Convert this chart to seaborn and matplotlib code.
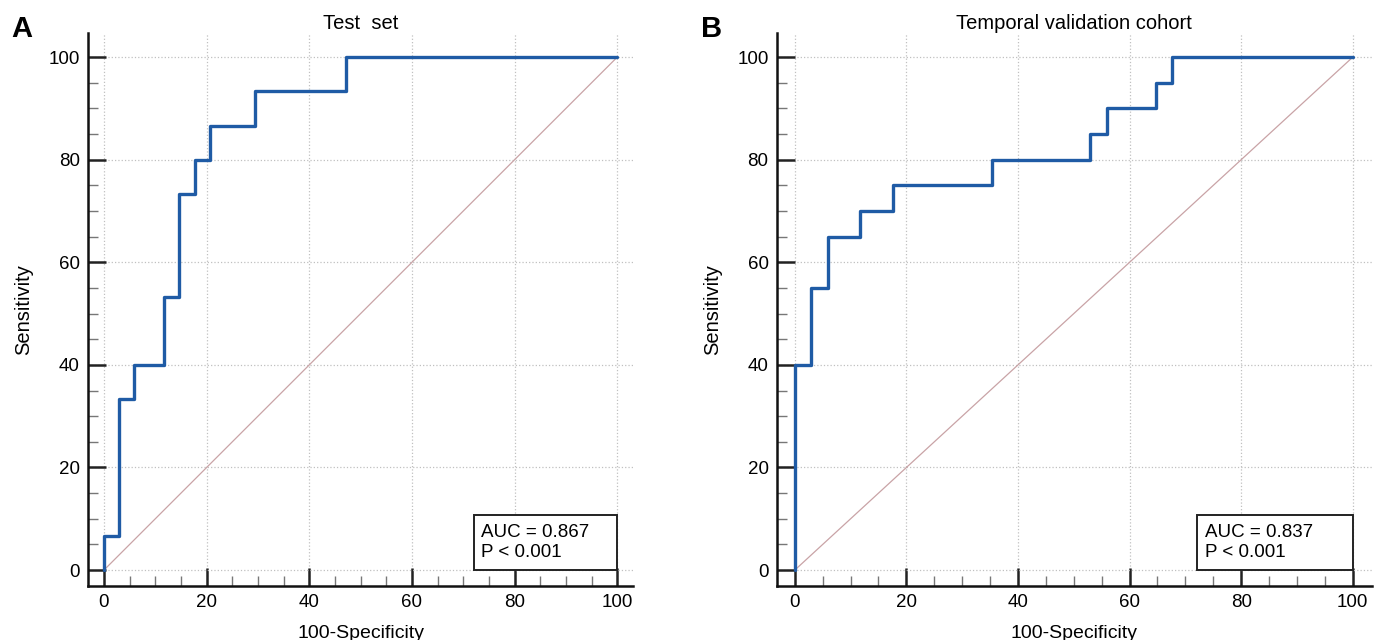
import numpy as np
import pandas as pd
import matplotlib
matplotlib.use('Agg')
import matplotlib.pyplot as plt
import seaborn as sns
from matplotlib.patches import Rectangle
from matplotlib.ticker import MultipleLocator

sns.set_style('white')
plt.rcParams['font.family'] = ['Liberation Sans', 'DejaVu Sans']
plt.rcParams['text.color'] = 'black'
plt.rcParams['axes.labelcolor'] = 'black'
plt.rcParams['xtick.color'] = 'black'
plt.rcParams['ytick.color'] = 'black'

# ROC corner points (100-Specificity, Sensitivity)
test_fpr = [0, 0, 2.94, 2.94, 5.88, 5.88, 11.76, 11.76, 14.71, 14.71, 17.65, 17.65,
            20.59, 20.59, 29.41, 29.41, 47.06, 47.06, 100]
test_tpr = [0, 6.67, 6.67, 33.33, 33.33, 40, 40, 53.33, 53.33, 73.33, 73.33, 80,
            80, 86.67, 86.67, 93.33, 93.33, 100, 100]

temp_fpr = [0, 0, 2.94, 2.94, 5.88, 5.88, 11.76, 11.76, 17.65, 17.65, 35.29, 35.29,
            52.94, 52.94, 55.88, 55.88, 64.71, 64.71, 67.65, 67.65, 100]
temp_tpr = [0, 40, 40, 55, 55, 65, 65, 70, 70, 75, 75, 80,
            80, 85, 85, 90, 90, 95, 95, 100, 100]

titles = ['Test  set', 'Temporal validation cohort']
letters = ['A', 'B']
auc_values = ['0.867', '0.837']
p_values = ['< 0.001', '< 0.001']

curve_color = '#1f5ba5'
diag_color = '#c9a3a6'

fig = plt.figure(figsize=(13.8, 6.4), dpi=100)
ax_a = fig.add_axes([0.0638, 0.0844, 0.395, 0.864])
ax_b = fig.add_axes([0.563, 0.0844, 0.431, 0.864])

panels = [(ax_a, test_fpr, test_tpr, (-3.1, 103.1)),
          (ax_b, temp_fpr, temp_tpr, (-3.2, 103.4))]

for i, (ax, fpr, tpr, xlim) in enumerate(panels):
    df = pd.DataFrame({'fpr': fpr, 'tpr': tpr})
    # reference diagonal
    sns.lineplot(x=[0, 100], y=[0, 100], ax=ax, color=diag_color, lw=0.9, zorder=2)
    sns.lineplot(data=df, x='fpr', y='tpr', ax=ax, sort=False, estimator=None,
                 color=curve_color, lw=2.4, zorder=3)

    ax.set_xlim(*xlim)
    ax.set_ylim(-3.1, 104.7)
    ax.xaxis.set_major_locator(MultipleLocator(20))
    ax.yaxis.set_major_locator(MultipleLocator(20))
    ax.xaxis.set_minor_locator(MultipleLocator(5))
    ax.yaxis.set_minor_locator(MultipleLocator(5))
    ax.tick_params(which='both', bottom=True, left=True, top=False, right=False)
    ax.tick_params(which='major', direction='in', length=13, width=1.8,
                   color='#222222', labelsize=13.5, pad=6)
    ax.tick_params(which='minor', direction='in', length=7, width=1.0, color='#777777')
    ax.grid(True, which='major', ls=':', color='#c0c0c0', lw=0.9)
    for side in ['top', 'right']:
        ax.spines[side].set_visible(False)
    for side in ['left', 'bottom']:
        ax.spines[side].set_linewidth(1.8)
        ax.spines[side].set_color('#111111')

    ax.set_xlabel('100-Specificity', fontsize=14, labelpad=10)
    ax.set_ylabel('Sensitivity', fontsize=14.5, labelpad=11)
    ax.set_title(titles[i], fontsize=14.5, pad=3)

    # AUC box
    ax.add_patch(Rectangle((72, 0), 28, 10.7, facecolor='white', edgecolor='#222222',
                           lw=1.4, zorder=4))
    ax.text(73.5, 5.35, f'AUC = {auc_values[i]}\nP {p_values[i]}', fontsize=13.5,
            va='center', ha='left', linespacing=1.2, zorder=5)

fig.text(0.008, 0.955, letters[0], fontsize=21, fontweight='bold', va='center')
fig.text(0.508, 0.955, letters[1], fontsize=21, fontweight='bold', va='center')

fig.savefig('out.png', dpi=100)
